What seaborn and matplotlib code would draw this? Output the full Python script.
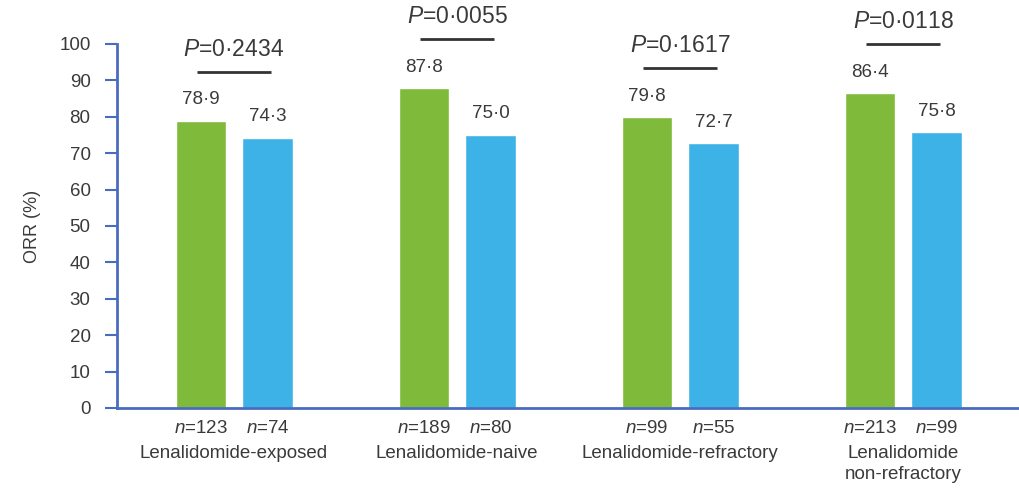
import matplotlib
matplotlib.use("Agg")
import matplotlib.pyplot as plt
import matplotlib.transforms as mtransforms
import seaborn as sns
import pandas as pd

# ---- data ----
groups = ["Lenalidomide-exposed", "Lenalidomide-naive",
          "Lenalidomide-refractory", "Lenalidomide\nnon-refractory"]
arms = ["Arm A", "Arm B"]
orr_green = [78.9, 87.8, 79.8, 86.4]
orr_blue = [74.3, 75.0, 72.7, 75.8]
n_green = [123, 189, 99, 213]
n_blue = [74, 80, 55, 99]
p_values = ["0·2434", "0·0055", "0·1617", "0·0118"]
y_ticks = [0, 10, 20, 30, 40, 50, 60, 70, 80, 90, 100]

green = "#80ba3a"
blue = "#3db2e6"
spine_col = "#4a6cbf"
txt = "#3a3a3a"

sns.set_theme(style="white")
plt.rcParams["font.family"] = ["Liberation Sans", "DejaVu Sans"]
plt.rcParams["mathtext.fontset"] = "custom"
plt.rcParams["mathtext.rm"] = "Liberation Sans"
plt.rcParams["mathtext.it"] = "Liberation Sans:italic"

df = pd.DataFrame({
    "group": groups * 2,
    "arm": [arms[0]] * 4 + [arms[1]] * 4,
    "orr": orr_green + orr_blue,
})

fig = plt.figure(figsize=(10.19, 5.03), dpi=100)
ax = fig.add_axes([0.1148, 0.189, 0.8852, 0.7236])

sns.barplot(data=df, x="group", y="orr", hue="arm", order=groups,
            hue_order=arms, palette=[green, blue], width=0.6, gap=0.25,
            legend=False, ax=ax, saturation=1)

ax.set_ylim(0, 100)
ax.set_xlim(-0.525, 3.52)
ax.set_yticks(y_ticks)
ax.set_yticklabels([str(t) for t in y_ticks], fontsize=13.5, color=txt)
ax.tick_params(axis="y", direction="out", length=9, width=1.5,
               color=spine_col, left=True, pad=10)
ax.tick_params(axis="x", bottom=False, labelbottom=False)
ax.set_xlabel("")
ax.set_ylabel("ORR (%)", fontsize=13, color=txt, labelpad=13)

for s in ["top", "right"]:
    ax.spines[s].set_visible(False)
for s in ["left", "bottom"]:
    ax.spines[s].set_color(spine_col)
    ax.spines[s].set_linewidth(2)

# value labels
for cont in ax.containers:
    for bar in cont:
        h = bar.get_height()
        ax.annotate(f"{h:.1f}".replace(".", "·"),
                    (bar.get_x() + bar.get_width() / 2, h),
                    xytext=(0, 9), textcoords="offset points",
                    ha="center", va="bottom", fontsize=13.5, color=txt)

# n labels and group labels
trans = mtransforms.blended_transform_factory(ax.transData, ax.transAxes)
for cont, ns in zip(ax.containers, [n_green, n_blue]):
    for bar, n in zip(cont, ns):
        ax.annotate(f"$n$=" + str(n), (bar.get_x() + bar.get_width() / 2, 0),
                    xycoords=trans, xytext=(0, -9), textcoords="offset points",
                    ha="center", va="top", fontsize=13.5, color=txt)
for i, g in enumerate(groups):
    ax.annotate(g, (i, 0), xycoords=trans, xytext=(0, -27),
                textcoords="offset points", ha="center", va="top",
                fontsize=13.5, color=txt, linespacing=1.25)

# P-value annotations
for i, p in enumerate(p_values):
    top = max(orr_green[i], orr_blue[i])
    ly = top + 13.5
    ax.plot([i - 0.165, i + 0.165], [ly, ly], color="#333333", lw=2,
            clip_on=False, solid_capstyle="butt")
    ax.text(i, ly + 3, f"$P$=" + p, ha="center", va="bottom",
            fontsize=16.5, color=txt, clip_on=False)

fig.savefig("out.png", dpi=100, facecolor="white")
